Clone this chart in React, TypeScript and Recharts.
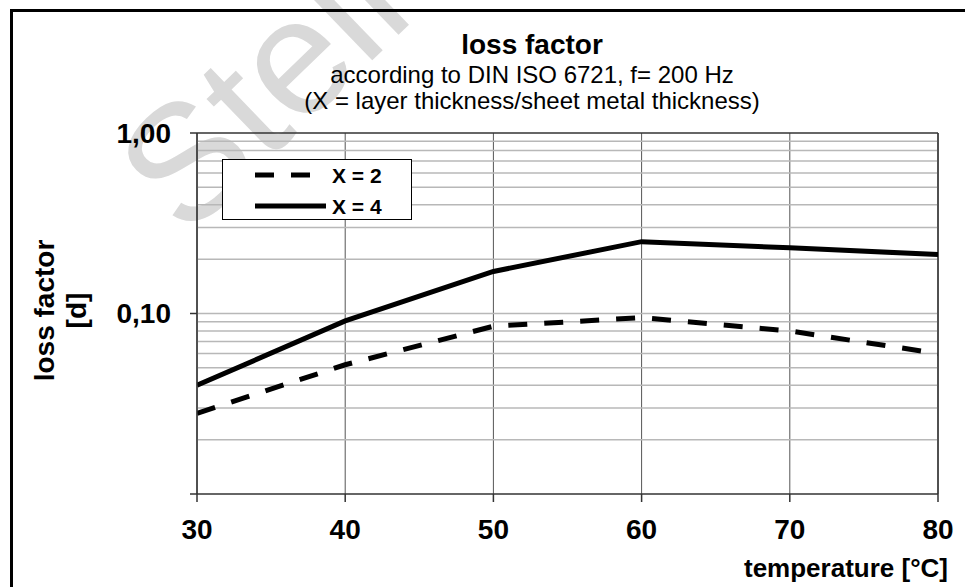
import React from "react";
import {
  CartesianGrid,
  Legend,
  Line,
  LineChart,
  ReferenceLine,
  XAxis,
  YAxis,
} from "recharts";

const temps = [30, 40, 50, 60, 70, 80];
const lossX2 = [0.028, 0.052, 0.085, 0.095, 0.08, 0.06];
const lossX4 = [0.04, 0.091, 0.171, 0.25, 0.231, 0.212];
const seriesNames = ["X = 2", "X = 4"];

const yTicks = [0.01, 0.1, 1];
const yTickLabels = ["", "0,10", "1,00"];
const minorGrid = [
  0.02, 0.03, 0.04, 0.05, 0.06, 0.07, 0.08, 0.09, 0.1, 0.2, 0.3, 0.4, 0.5,
  0.6, 0.7, 0.8, 0.9,
];

const title = "loss factor";
const subtitle1 = "according to DIN ISO 6721, f= 200 Hz";
const subtitle2 = "(X = layer thickness/sheet metal thickness)";
const xTitle = "temperature [°C]";
const yTitle = ["loss factor", "[d]"];
const watermark = "Stell";

const font = "'Liberation Sans', Arial, sans-serif";

const rows = temps.map((t, i) => ({ t, x2: lossX2[i], x4: lossX4[i] }));

const dashes = ["19 17", undefined];

function LegendBox() {
  return (
    <div
      style={{
        width: 188,
        height: 59,
        border: "1px solid #000",
        background: "#fff",
        boxSizing: "content-box",
      }}
    >
      <svg width={188} height={59}>
        {seriesNames.map((name, i) => (
          <g key={name}>
            <line
              x1={32}
              x2={i === 0 ? 87 : 103}
              y1={15 + i * 31}
              y2={15 + i * 31}
              stroke="#000"
              strokeWidth={5}
              strokeDasharray={dashes[i]}
            />
            <text
              x={109}
              y={15 + i * 31}
              dy="0.36em"
              fontFamily={font}
              fontWeight={700}
              fontSize={21}
              fill="#000"
            >
              {name}
            </text>
          </g>
        ))}
      </svg>
    </div>
  );
}

function XTitle(props: any) {
  const vb = props.viewBox;
  return (
    <text
      x={vb.x + vb.width + 10}
      y={vb.y + 83}
      textAnchor="end"
      fontFamily={font}
      fontWeight={700}
      fontSize={26}
      fill="#000"
    >
      {xTitle}
    </text>
  );
}

function YTitle(props: any) {
  const vb = props.viewBox;
  const cy = vb.y + vb.height / 2 - 3;
  return (
    <g>
      {yTitle.map((line, i) => (
        <text
          key={line}
          x={54 + i * 32}
          y={cy}
          transform={`rotate(-90, ${54 + i * 32}, ${cy})`}
          textAnchor="middle"
          fontFamily={font}
          fontWeight={700}
          fontSize={28}
          fill="#000"
        >
          {line}
        </text>
      ))}
    </g>
  );
}

export default function App() {
  const tickStyle = { fill: "#000", fontSize: 28, fontWeight: 700, fontFamily: font };
  return (
    <div style={{ position: "relative", width: 965, height: 587, overflow: "hidden", background: "#fff" }}>
      <style>{`body{margin:0}`}</style>
      <svg width={965} height={587} style={{ position: "absolute", left: 0, top: 0 }}>
        <text
          x={186}
          y={240}
          transform="rotate(-44, 186, 240)"
          fontFamily={font}
          fontSize={165}
          fill="#d9d9d9"
        >
          {watermark}
        </text>
      </svg>
      <div
        style={{
          position: "absolute",
          left: 10,
          top: 9,
          width: 1000,
          height: 600,
          borderTop: "3px solid #000",
          borderLeft: "3px solid #000",
        }}
      />
      <div style={{ position: "absolute", left: 0, top: 0 }}>
        <LineChart width={965} height={587} data={rows} margin={{ top: 133, right: 27, left: 0, bottom: 0 }}>
          <CartesianGrid horizontal={false} stroke="#555" strokeWidth={1} />
          {minorGrid.map((v) => (
            <ReferenceLine key={v} y={v} stroke="#b8b8b8" strokeWidth={1.5} />
          ))}
          <ReferenceLine y={1} stroke="#333" strokeWidth={1.5} />
          <ReferenceLine x={80} stroke="#333" strokeWidth={1.5} />
          <XAxis
            dataKey="t"
            type="number"
            domain={[30, 80]}
            ticks={temps}
            height={93}
            tickSize={8}
            tickMargin={17}
            stroke="#333"
            strokeWidth={1.5}
            tick={tickStyle}
            allowDataOverflow
            label={<XTitle />}
          />
          <YAxis
            scale="log"
            domain={[0.01, 1]}
            ticks={yTicks}
            tickFormatter={(v: number) => yTickLabels[yTicks.indexOf(v)] ?? ""}
            width={197}
            tickSize={7}
            tickMargin={19}
            stroke="#333"
            strokeWidth={1.5}
            tick={tickStyle}
            allowDataOverflow
            label={<YTitle />}
          />
          <Legend
            layout="horizontal"
            align="center"
            verticalAlign="middle"
            wrapperStyle={{ left: 222, top: 159, width: 190, height: 61 }}
            content={() => <LegendBox />}
          />
          <Line
            dataKey="x2"
            name={seriesNames[0]}
            stroke="#000"
            strokeWidth={5}
            strokeDasharray={dashes[0]}
            dot={false}
            isAnimationActive={false}
          />
          <Line
            dataKey="x4"
            name={seriesNames[1]}
            stroke="#000"
            strokeWidth={5}
            dot={false}
            isAnimationActive={false}
          />
        </LineChart>
      </div>
      <svg width={965} height={130} style={{ position: "absolute", left: 0, top: 0, pointerEvents: "none" }}>
        <text x={532} y={54} textAnchor="middle" fontFamily={font} fontWeight={700} fontSize={28} fill="#000">
          {title}
        </text>
        <text x={532} y={83} textAnchor="middle" fontFamily={font} fontSize={24} fill="#000">
          {subtitle1}
        </text>
        <text x={532} y={109} textAnchor="middle" fontFamily={font} fontSize={24} fill="#000">
          {subtitle2}
        </text>
      </svg>
    </div>
  );
}
